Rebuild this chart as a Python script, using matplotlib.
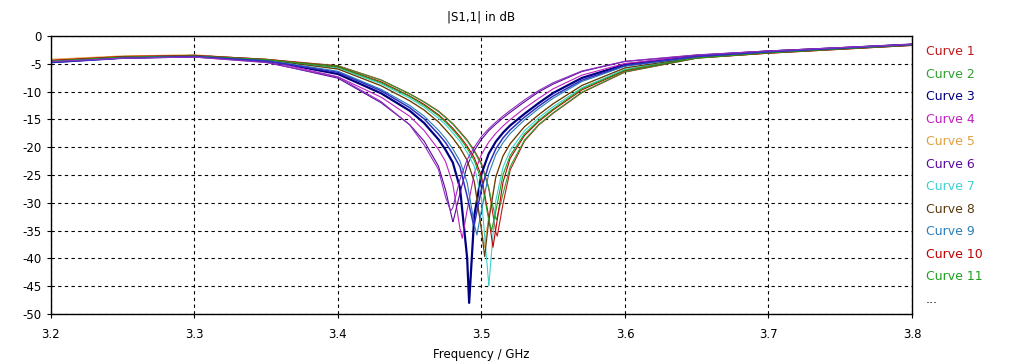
import numpy as np
import matplotlib
matplotlib.use("Agg")
import matplotlib.pyplot as plt
from matplotlib.lines import Line2D

plt.rcParams["axes.unicode_minus"] = False

# Data
# -----------------------------------------------------------
# shared frequency grid, GHz
freq = [3.20, 3.25, 3.30, 3.35, 3.40, 3.43, 3.45, 3.46, 3.47, 3.475,
        3.48, 3.485, 3.49, 3.495, 3.50, 3.505, 3.51, 3.515, 3.52, 3.53,
        3.54, 3.55, 3.57, 3.60, 3.65, 3.70, 3.75, 3.80]

# |S11| in dB on the grid above, one list per curve
c1 = [-4.4, -3.7, -3.5, -4.2, -5.35, -7.9, -10.4, -11.85, -13.5, -14.6, -15.75, -17.2, -18.7, -20.6,
      -22.9, -27.3, -35.3, -30.2, -24.1, -18.9, -16.0, -13.9, -10.2, -6.5, -4.0, -3.1, -2.4, -1.7]
c2 = [-4.5, -3.8, -3.5, -4.3, -5.4, -7.95, -10.45, -11.9, -13.6, -14.7, -15.85, -17.35, -18.85, -20.8,
      -23.2, -27.3, -32.9, -28.4, -23.5, -18.7, -15.9, -13.8, -10.1, -6.45, -4.0, -3.05, -2.35, -1.65]
c3 = [-4.7, -3.9, -3.6, -4.4, -6.85, -10.3, -13.45, -15.65, -18.6, -20.5, -22.75, -27.3, -39.9, -32.3,
      -24.8, -21.2, -19.0, -17.4, -16.1, -14.0, -12.05, -10.25, -7.55, -5.15, -3.6, -2.8, -2.2, -1.55]
c4 = [-4.6, -3.9, -3.7, -4.45, -7.35, -11.0, -14.45, -17.0, -20.4, -22.6, -26.6, -34.6, -31.3, -24.7,
      -21.3, -19.1, -17.5, -16.2, -15.05, -13.0, -11.2, -9.5, -7.05, -4.95, -3.55, -2.75, -2.15, -1.5]
c5 = [-4.2, -3.6, -3.4, -4.3, -5.95, -8.95, -11.7, -13.35, -15.5, -16.9, -18.4, -20.2, -22.4, -26.3,
      -34.7, -32.5, -25.2, -21.5, -19.3, -16.3, -14.1, -12.15, -8.9, -5.75, -3.85, -2.95, -2.3, -1.6]
c6 = [-4.6, -4.0, -3.8, -4.7, -7.6, -12.0, -15.95, -18.9, -23.4, -27.7, -33.4, -28.3, -23.3, -20.6,
      -18.6, -17.05, -15.85, -14.75, -13.75, -11.85, -10.05, -8.65, -6.4, -4.6, -3.45, -2.7, -2.1, -1.5]
c7 = [-4.6, -3.8, -3.5, -4.25, -5.75, -8.6, -11.2, -12.8, -14.8, -15.95, -17.45, -18.95, -20.95, -23.45,
      -29.2, -44.5, -29.6, -23.6, -20.6, -17.05, -14.7, -12.7, -9.3, -6.0, -3.9, -3.0, -2.3, -1.65]
c8 = [-4.5, -3.8, -3.6, -4.3, -5.95, -8.95, -11.65, -13.3, -15.45, -16.85, -18.35, -20.1, -22.35, -26.2,
      -34.9, -33.4, -25.4, -21.6, -19.4, -16.3, -14.15, -12.2, -8.9, -5.75, -3.85, -2.95, -2.3, -1.6]
c9 = [-4.7, -3.9, -3.6, -4.35, -6.35, -9.6, -12.5, -14.4, -16.95, -18.45, -20.3, -22.5, -26.35, -33.8,
      -31.4, -24.85, -21.3, -19.2, -17.55, -15.1, -13.05, -11.2, -8.2, -5.45, -3.8, -2.9, -2.25, -1.6]
c10 = [-4.4, -3.7, -3.5, -4.2, -5.55, -8.25, -10.8, -12.3, -14.15, -15.3, -16.6, -18.1, -19.8, -21.9,
       -25.2, -32.5, -34.7, -26.3, -22.0, -17.9, -15.35, -13.3, -9.7, -6.25, -3.95, -3.1, -2.4, -1.7]
c11 = [-4.5, -3.8, -3.6, -4.25, -5.6, -8.4, -10.9, -12.5, -14.35, -15.5, -16.9, -18.4, -20.2, -22.4,
       -26.0, -33.0, -31.5, -24.95, -21.5, -17.6, -15.15, -13.1, -9.5, -6.15, -3.95, -3.05, -2.35, -1.65]
c12 = [-4.8, -4.0, -3.7, -4.5, -6.55, -9.85, -12.9, -14.9, -17.65, -19.2, -21.2, -23.55, -28.8, -33.9,
       -27.5, -23.2, -20.3, -18.35, -16.9, -14.6, -12.6, -10.8, -7.95, -5.3, -3.7, -2.85, -2.2, -1.55]
c13 = [-4.6, -4.0, -3.8, -4.8, -7.4, -11.8, -16.0, -19.6, -24.0, -29.0, -30.9, -25.8, -22.25, -20.0,
       -18.1, -16.7, -15.5, -14.4, -13.4, -11.5, -9.8, -8.4, -6.3, -4.55, -3.4, -2.7, -2.1, -1.5]

# resonance minimum of each curve (frequency, dB)
dip_f = [3.511, 3.5105, 3.4914, 3.4866, 3.502, 3.4802, 3.5051, 3.5022, 3.4968, 3.508, 3.507, 3.4945, 3.4785]
dip_db = [-36.0, -33.0, -48.0, -36.4, -38.0, -33.4, -44.9, -39.7, -35.8, -38.0, -35.0, -34.0, -31.5]

curves = [c1, c2, c3, c4, c5, c6, c7, c8, c9, c10, c11, c12, c13]
names = ["Curve 1", "Curve 2", "Curve 3", "Curve 4", "Curve 5", "Curve 6",
         "Curve 7", "Curve 8", "Curve 9", "Curve 10", "Curve 11", "Curve 12", "Curve 13"]
colors = ["#c01818", "#30a030", "#000080", "#c020c0", "#e0a040", "#5a0a9a",
          "#40d0d0", "#5a3a10", "#2a80b8", "#c00000", "#20a020", "#3030c0", "#9030c0"]
widths = [0.8, 0.8, 1.6, 0.8, 0.8, 0.8, 0.8, 0.8, 0.8, 0.8, 0.8, 1.1, 0.8]

# Plot
# -----------------------------------------------------------
fig = plt.figure(figsize=(10.13, 3.63), dpi=100)
ax = fig.add_axes([0.0503, 0.135, 0.85, 0.766])

lines = []
for vals, f0, d0, col, lw, name in zip(curves, dip_f, dip_db, colors, widths, names):
    f = np.array(freq + [f0])
    v = np.array(vals + [d0])
    order = np.argsort(f, kind="stable")
    ln, = ax.plot(f[order], v[order], color=col, lw=lw, label=name)
    lines.append(ln)

ax.set_xlim(3.2, 3.8)
ax.set_ylim(-50, 0)
ax.set_xticks(np.arange(3.2, 3.81, 0.1))
ax.set_xticklabels(["%.1f" % t for t in np.arange(3.2, 3.81, 0.1)])
ax.set_yticks(np.arange(-50, 1, 5))
ax.grid(True, color="black", linestyle=(0, (3, 3)), linewidth=0.8)
ax.tick_params(labelsize=8.5, direction="out", length=3, color="black")
ax.tick_params(axis="x", pad=7)
for s in ax.spines.values():
    s.set_color("black")
    s.set_linewidth(1.0)

ax.set_title("|S1,1| in dB", fontsize=8.5, pad=11)
ax.set_xlabel("Frequency / GHz", fontsize=8.5, labelpad=5)

# legend: coloured text only, first 11 curves and "..."
hand = lines[:11] + [Line2D([], [], color="none")]
labs = names[:11] + ["..."]
leg = ax.legend(hand, labs, loc="upper left", bbox_to_anchor=(1.01, 0.985),
                frameon=False, handlelength=0, handletextpad=0, fontsize=9,
                labelspacing=0.76, borderaxespad=0,
                labelcolor=colors[:11] + ["black"])

fig.savefig("out.png", dpi=100, facecolor="white")
